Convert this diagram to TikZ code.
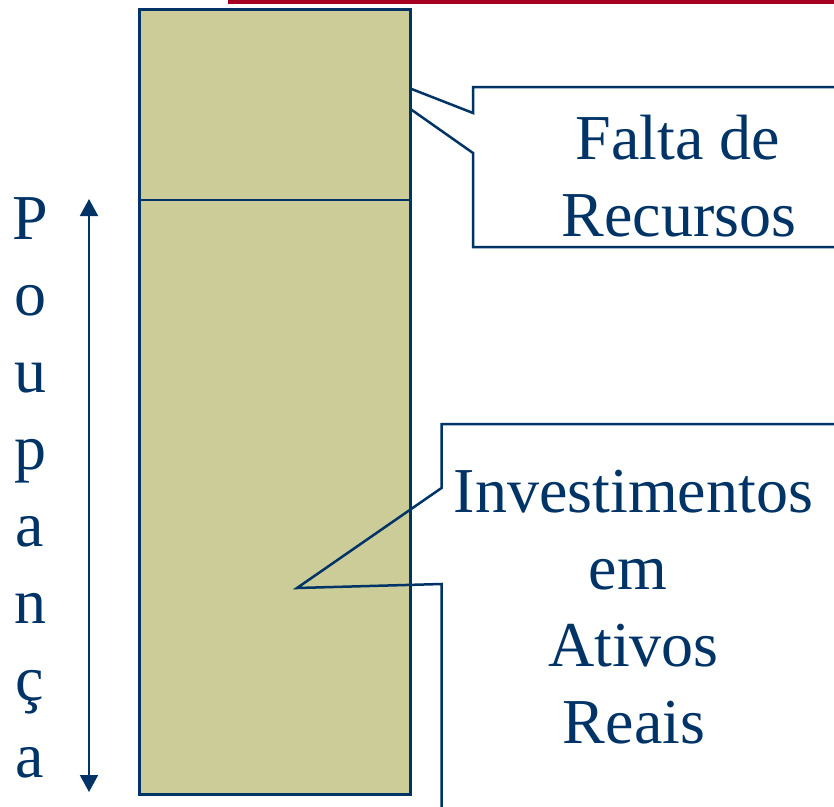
\documentclass[tikz,border=0pt]{standalone}
\usepackage{fontspec}
\setmainfont{Liberation Serif}
\usetikzlibrary{arrows.meta}
\definecolor{navy}{HTML}{003366}
\definecolor{tan}{HTML}{CCCC99}
\definecolor{barred}{HTML}{A50021}
\tikzset{
  lbl/.style={text=navy, inner sep=0pt, font=\fontsize{64}{77}\selectfont},
  outline/.style={draw=navy, line width=2.5pt, line join=miter},
  headtip/.tip={Triangle[length=17pt,width=18pt]},
}
\begin{document}
\begin{tikzpicture}[x=1pt, y=-1pt]
\useasboundingbox (0,0) rectangle (834,806);
\clip (0,0) rectangle (834,806);
% top red bar
\fill[barred] (228,0) rectangle (834,3.5);
% callout 1 (behind the column)
\draw[outline, fill=white] (900,87) -- (473,87) -- (473,113) -- (345,63) -- (473,153) -- (473,247) -- (900,247);
% column
\node[draw=navy, fill=tan, line width=3pt, minimum width=271pt, minimum height=785pt, inner sep=0pt, anchor=north west] (col) at (137.5,7.5) {};
\coordinate (divL) at (137.5,200);
\coordinate (divR) at (408.5,200);
\draw[navy, line width=2.5pt] (divL) -- (divR);
% callout 2 (over the column)
\draw[outline] (900,424) -- (441.5,424) -- (441.5,488) -- (297,588) -- (441.5,584) -- (441.5,820);
% texts
\node[lbl, anchor=base] (f1) at (678,159) {Falta de};
\node[lbl, anchor=base] (f2) at (679,236) {Recursos};
\node[lbl, anchor=base] (i1) at (633.5,512) {Investimentos};
\node[lbl, anchor=base] (i2) at (628,589) {em};
\node[lbl, anchor=base] (i3) at (633.5,666) {Ativos};
\node[lbl, anchor=base] (i4) at (634,743) {Reais};
% Poupança
\foreach \c [count=\i] in {P,o,u,p,a,n,ç,a}
  \node[lbl, anchor=base] (p\i) at (30,{239+76.9*(\i-1)}) {\c};
% double arrow
\coordinate (at) at (89,199);
\coordinate (ab) at (89,792);
\draw[navy, line width=2pt, headtip-headtip] (at) -- (ab);
\end{tikzpicture}
\end{document}
